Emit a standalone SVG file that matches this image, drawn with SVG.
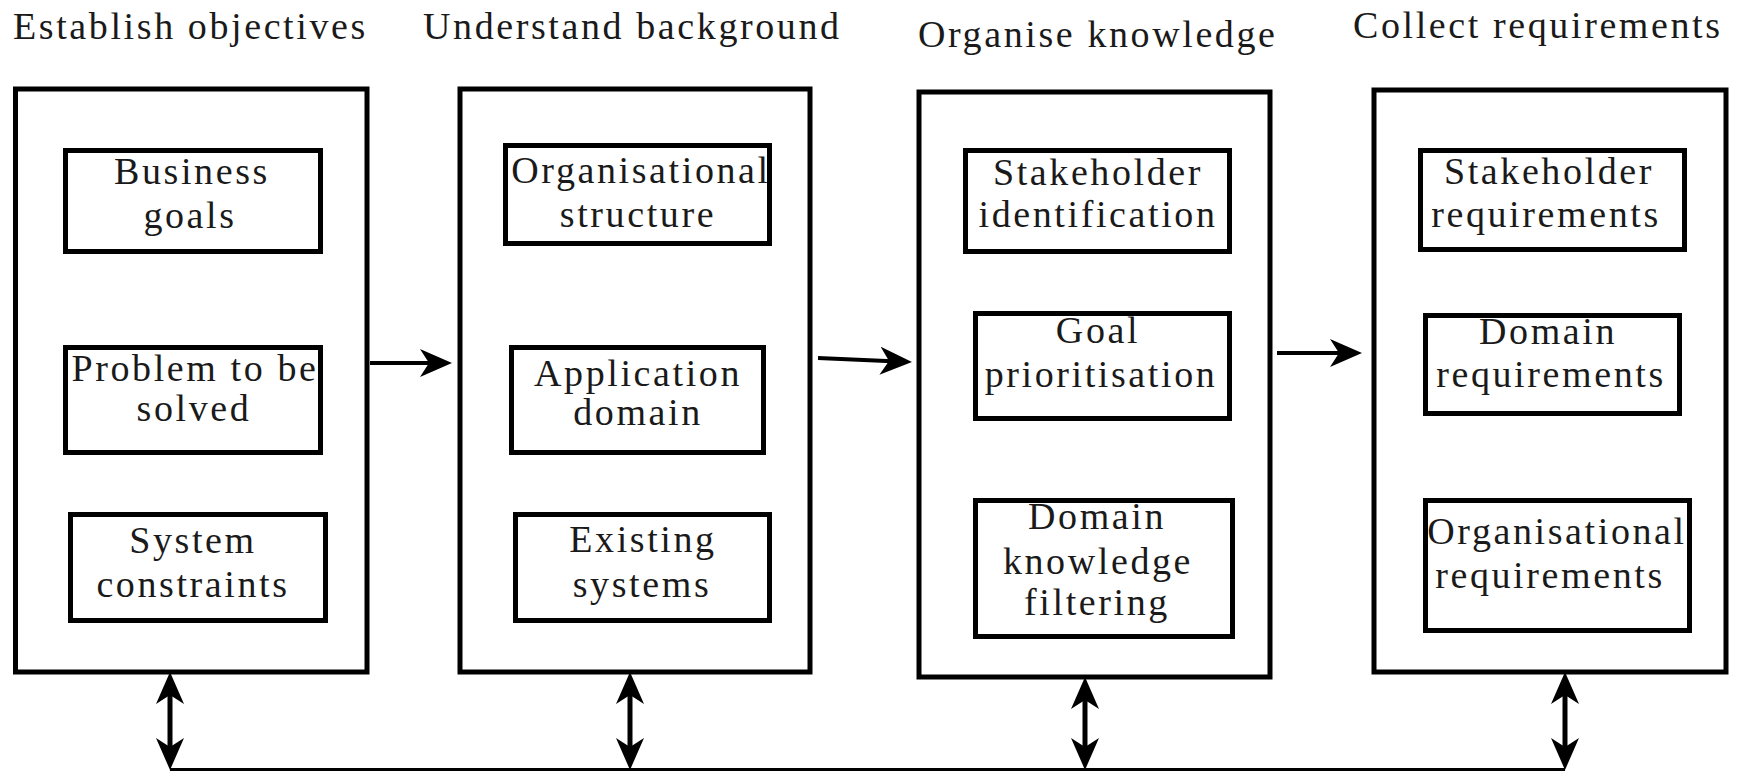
<svg xmlns="http://www.w3.org/2000/svg" width="1742" height="772" viewBox="0 0 1742 772">
  <style>
    .bg { fill: #ffffff; }
    .stage { fill: #ffffff; stroke: #000000; stroke-width: 5; }
    .item { fill: #ffffff; stroke: #000000; stroke-width: 5; }
    .title { font-family: "Liberation Serif", "Times New Roman", serif; font-size: 38px; letter-spacing: 2.6px; fill: #1a1a1a; }
    .label { font-family: "Liberation Serif", "Times New Roman", serif; font-size: 38px; letter-spacing: 2.6px; fill: #1a1a1a; text-anchor: middle; }
    .flow { fill: none; stroke: #000000; stroke-width: 4; marker-end: url(#head); }
    .link { fill: none; stroke: #000000; stroke-width: 5; marker-start: url(#head); marker-end: url(#head); }
    .bus { fill: none; stroke: #000000; stroke-width: 3; }
  </style>
  <defs>
    <marker id="head" viewBox="-32 -14 32 28" refX="-20" refY="0" markerWidth="32" markerHeight="28" markerUnits="userSpaceOnUse" orient="auto-start-reverse">
      <path d="M0,0 L-32,-14 L-23,0 L-32,14 Z" fill="#000000"/>
    </marker>
  </defs>

  <rect class="bg" x="0" y="0" width="1742" height="772"/>

  <!-- Stage headings -->
  <g id="titles">
    <text class="title" x="13" y="39">Establish objectives</text>
    <text class="title" x="423" y="39">Understand background</text>
    <text class="title" x="918" y="47">Organise knowledge</text>
    <text class="title" x="1353" y="38">Collect requirements</text>
  </g>

  <!-- Stage 1 -->
  <g id="establish-objectives">
    <rect class="stage" x="15.5" y="89" width="351.5" height="583"/>
    <g id="business-goals">
      <rect class="item" x="65.5" y="150.5" width="255" height="101"/>
      <text class="label" x="192" y="184">Business</text>
      <text class="label" x="190" y="228">goals</text>
    </g>
    <g id="problem-to-be-solved">
      <rect class="item" x="65.5" y="347.5" width="255" height="105"/>
      <text class="label" x="195" y="381">Problem to be</text>
      <text class="label" x="194" y="421">solved</text>
    </g>
    <g id="system-constraints">
      <rect class="item" x="70.5" y="514.5" width="255" height="106"/>
      <text class="label" x="193" y="553">System</text>
      <text class="label" x="193" y="597">constraints</text>
    </g>
  </g>

  <!-- Stage 2 -->
  <g id="understand-background">
    <rect class="stage" x="460" y="89" width="350" height="583"/>
    <g id="organisational-structure">
      <rect class="item" x="505.5" y="145.5" width="264" height="98"/>
      <text class="label" x="641" y="183">Organisational</text>
      <text class="label" x="638" y="227">structure</text>
    </g>
    <g id="application-domain">
      <rect class="item" x="511.5" y="347.5" width="252" height="105"/>
      <text class="label" x="638" y="386">Application</text>
      <text class="label" x="638" y="425">domain</text>
    </g>
    <g id="existing-systems">
      <rect class="item" x="515.5" y="514.5" width="254" height="106"/>
      <text class="label" x="643" y="552">Existing</text>
      <text class="label" x="642" y="597">systems</text>
    </g>
  </g>

  <!-- Stage 3 -->
  <g id="organise-knowledge">
    <rect class="stage" x="919" y="92" width="351" height="585"/>
    <g id="stakeholder-identification">
      <rect class="item" x="965.5" y="150.5" width="264" height="101"/>
      <text class="label" x="1098" y="185">Stakeholder</text>
      <text class="label" x="1098" y="227">identification</text>
    </g>
    <g id="goal-prioritisation">
      <rect class="item" x="975.5" y="313.5" width="254" height="105"/>
      <text class="label" x="1098" y="343">Goal</text>
      <text class="label" x="1101" y="387">prioritisation</text>
    </g>
    <g id="domain-knowledge-filtering">
      <rect class="item" x="975.5" y="500.5" width="257" height="136"/>
      <text class="label" x="1097" y="529">Domain</text>
      <text class="label" x="1098" y="574">knowledge</text>
      <text class="label" x="1097" y="615">filtering</text>
    </g>
  </g>

  <!-- Stage 4 -->
  <g id="collect-requirements">
    <rect class="stage" x="1374" y="90" width="352" height="582"/>
    <g id="stakeholder-requirements">
      <rect class="item" x="1420.5" y="150.5" width="264" height="99"/>
      <text class="label" x="1549" y="184">Stakeholder</text>
      <text class="label" x="1546" y="227">requirements</text>
    </g>
    <g id="domain-requirements">
      <rect class="item" x="1425.5" y="315.5" width="254" height="98"/>
      <text class="label" x="1548" y="344">Domain</text>
      <text class="label" x="1551" y="387">requirements</text>
    </g>
    <g id="organisational-requirements">
      <rect class="item" x="1425.5" y="500.5" width="264" height="130"/>
      <text class="label" x="1557" y="544">Organisational</text>
      <text class="label" x="1550" y="588">requirements</text>
    </g>
  </g>

  <!-- Connectors -->
  <g id="connectors">
    <line class="flow" x1="370" y1="363" x2="432" y2="363"/>
    <line class="flow" x1="818" y1="358" x2="892" y2="361.15"/>
    <line class="flow" x1="1277" y1="353" x2="1342" y2="353"/>

    <line class="link" x1="170" y1="692" x2="170" y2="750"/>
    <line class="link" x1="630" y1="692" x2="630" y2="750"/>
    <line class="link" x1="1085" y1="697" x2="1085" y2="750"/>
    <line class="link" x1="1565" y1="692" x2="1565" y2="750"/>

    <line class="bus" x1="170" y1="769.5" x2="1565" y2="769.5"/>
  </g>
</svg>
